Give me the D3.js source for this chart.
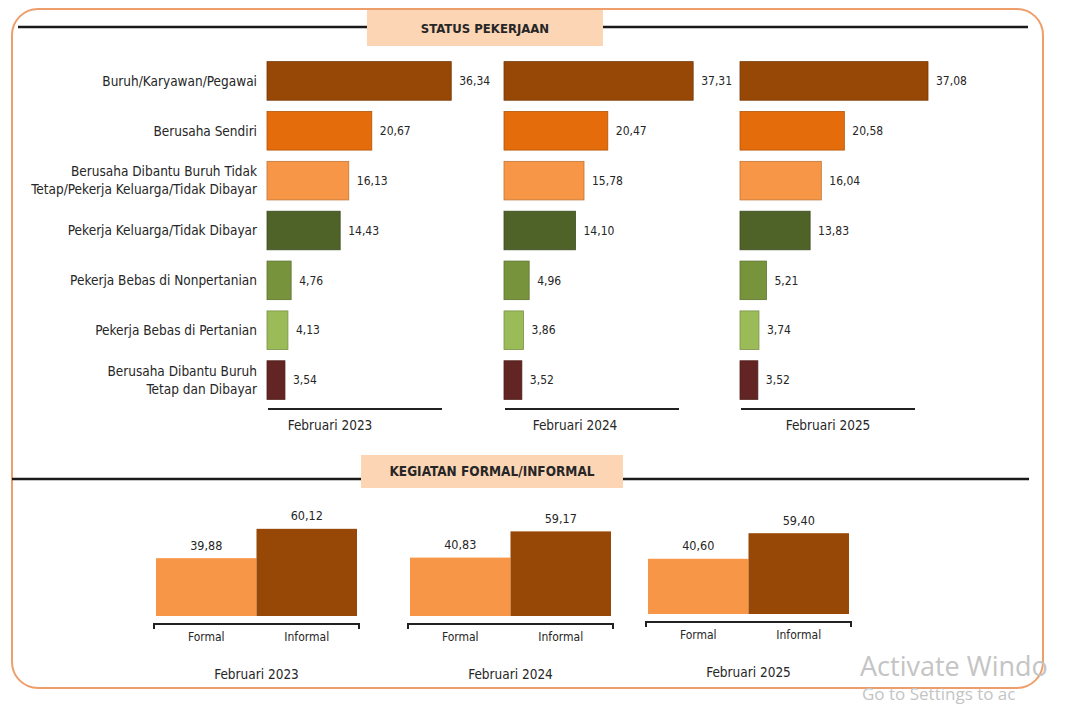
<!DOCTYPE html>
<html>
<head>
<meta charset="utf-8">
<script src="https://cdn.jsdelivr.net/npm/d3@7"></script>
<style>
  body { margin: 0; background: #fff; }
  svg text { font-family: "Liberation Sans Narrow", "DejaVu Sans Condensed", "Liberation Sans", sans-serif; fill: #262626; }
</style>
</head>
<body>
<script>
// data
const categories = [
  "Buruh/Karyawan/Pegawai",
  "Berusaha Sendiri",
  "Berusaha Dibantu Buruh Tidak\nTetap/Pekerja Keluarga/Tidak Dibayar",
  "Pekerja Keluarga/Tidak Dibayar",
  "Pekerja Bebas di Nonpertanian",
  "Pekerja Bebas di Pertanian",
  "Berusaha Dibantu Buruh\nTetap dan Dibayar"
]
const periods = ["Februari 2023", "Februari 2024", "Februari 2025"]
const status2023 = [36.34, 20.67, 16.13, 14.43, 4.76, 4.13, 3.54]
const status2024 = [37.31, 20.47, 15.78, 14.10, 4.96, 3.86, 3.52]
const status2025 = [37.08, 20.58, 16.04, 13.83, 5.21, 3.74, 3.52]
const activityTypes = ["Formal", "Informal"]
const formalShare = [39.88, 40.83, 40.60]
const informalShare = [60.12, 59.17, 59.40]

const statusColors = ["#974806", "#E46C0A", "#F79646", "#4F6228", "#77933C", "#9BBB59", "#632523"]
const activityColors = ["#F79646", "#974806"]

const fmt = v => d3.format(".2f")(v).replace(".", ",")

const w = 1072, h = 708
const svg = d3.select("body").append("svg")
  .attr("width", w)
  .attr("height", h)

// frame
svg.append("rect")
  .attr("x", 12).attr("y", 9)
  .attr("width", 1031).attr("height", 679)
  .attr("rx", 26)
  .attr("fill", "none")
  .attr("stroke", "#EE9E6A")
  .attr("stroke-width", 2)

// section headers
const sectionHeader = (title, y, boxX0, boxX1, boxY0, boxY1, lineX0, lineX1, fs) => {
  svg.append("line").attr("x1", lineX0).attr("x2", boxX0).attr("y1", y).attr("y2", y)
    .attr("stroke", "#1a1a1a").attr("stroke-width", 2.5)
  svg.append("line").attr("x1", boxX1).attr("x2", lineX1).attr("y1", y).attr("y2", y)
    .attr("stroke", "#1a1a1a").attr("stroke-width", 2.5)
  svg.append("rect").attr("x", boxX0).attr("y", boxY0)
    .attr("width", boxX1 - boxX0).attr("height", boxY1 - boxY0)
    .attr("fill", "#FCD5B5")
  svg.append("text")
    .attr("x", (boxX0 + boxX1) / 2).attr("y", (boxY0 + boxY1) / 2)
    .attr("dy", "0.35em")
    .attr("text-anchor", "middle")
    .style("font-weight", "bold")
    .style("font-size", fs + "px")
    .text(title)
}
sectionHeader("STATUS PEKERJAAN", 27, 367, 603, 10, 46, 18, 1028, 13)
sectionHeader("KEGIATAN FORMAL/INFORMAL", 479, 361, 623, 455, 488, 12, 1029, 13.5)

// ---- status pekerjaan: three horizontal bar panels
const statusSeries = [status2023, status2024, status2025]
const panelX = [267, 504, 740]
const periodLabelX = [330, 575, 828]

const yScale = d3.scaleBand()
  .domain(categories)
  .range([56, 405])
  .paddingInner(0.226)
  .paddingOuter(0.113)

const xScale = d3.scaleLinear()
  .domain([0, 40])
  .range([0, 202.8])

// category labels
const catLabels = svg.append("g")
  .selectAll("text")
  .data(categories)
  .enter()
  .append("text")
  .attr("text-anchor", "end")
  .style("font-size", "13.5px")
  .attr("transform", d => `translate(257, ${yScale(d) + yScale.bandwidth() / 2})`)

catLabels.each(function (d) {
  const lines = d.split("\n")
  const t = d3.select(this)
  lines.forEach((line, i) => {
    t.append("tspan")
      .attr("x", 0)
      .attr("y", (i - (lines.length - 1) / 2) * 18)
      .attr("dy", "0.35em")
      .text(line)
  })
})

statusSeries.forEach((series, p) => {
  const g = svg.append("g").attr("transform", `translate(${panelX[p]}, 0)`)

  g.selectAll("rect")
    .data(series)
    .enter()
    .append("rect")
    .attr("x", 0)
    .attr("y", (d, i) => yScale(categories[i]))
    .attr("width", d => xScale(d))
    .attr("height", yScale.bandwidth())
    .attr("fill", (d, i) => statusColors[i])
    .attr("stroke", (d, i) => d3.color(statusColors[i]).darker(0.7))
    .attr("stroke-width", 0.8)

  g.selectAll(".val")
    .data(series)
    .enter()
    .append("text")
    .attr("class", "val")
    .attr("x", d => xScale(d) + 8)
    .attr("y", (d, i) => yScale(categories[i]) + yScale.bandwidth() / 2)
    .attr("dy", "0.35em")
    .style("font-size", "12px")
    .text(fmt)

  g.append("line")
    .attr("x1", 1).attr("x2", 175)
    .attr("y1", 409).attr("y2", 409)
    .attr("stroke", "#222").attr("stroke-width", 2)

  svg.append("text")
    .attr("x", periodLabelX[p]).attr("y", 425)
    .attr("dy", "0.35em")
    .attr("text-anchor", "middle")
    .style("font-size", "13.5px")
    .text(periods[p])
})

// ---- kegiatan formal/informal: three small column panels (each its own chart)
const colPanelX = [156, 410, 648]
const colBase = [616, 616, 614]
const colHeight = [145, 143, 136]

const bandX = d3.scaleBand()
  .domain(activityTypes)
  .range([0, 201])
  .padding(0)

periods.forEach((period, p) => {
  const vals = [formalShare[p], informalShare[p]]
  const base = colBase[p]
  const yCol = d3.scaleLinear()
    .domain([0, 100])
    .range([0, colHeight[p]])
  const g = svg.append("g").attr("transform", `translate(${colPanelX[p]}, 0)`)

  g.selectAll("rect")
    .data(vals)
    .enter()
    .append("rect")
    .attr("x", (d, i) => bandX(activityTypes[i]))
    .attr("y", d => base - yCol(d))
    .attr("width", bandX.bandwidth())
    .attr("height", d => yCol(d))
    .attr("fill", (d, i) => activityColors[i])

  g.selectAll(".val")
    .data(vals)
    .enter()
    .append("text")
    .attr("class", "val")
    .attr("x", (d, i) => bandX(activityTypes[i]) + bandX.bandwidth() / 2)
    .attr("y", d => base - yCol(d) - 13)
    .attr("dy", "0.35em")
    .attr("text-anchor", "middle")
    .style("font-size", "12.5px")
    .text(fmt)

  // bracket under columns
  const bracket = d3.path()
  bracket.moveTo(-2, base + 13)
  bracket.lineTo(-2, base + 8)
  bracket.lineTo(203, base + 8)
  bracket.lineTo(203, base + 13)
  g.append("path")
    .attr("d", bracket.toString())
    .attr("fill", "none")
    .attr("stroke", "#222")
    .attr("stroke-width", 2)

  g.selectAll(".cat")
    .data(activityTypes)
    .enter()
    .append("text")
    .attr("class", "cat")
    .attr("x", d => bandX(d) + bandX.bandwidth() / 2)
    .attr("y", base + 21)
    .attr("dy", "0.35em")
    .attr("text-anchor", "middle")
    .style("font-size", "12px")
    .text(d => d)

  g.append("text")
    .attr("x", bandX.range()[1] / 2)
    .attr("y", base + 58)
    .attr("dy", "0.35em")
    .attr("text-anchor", "middle")
    .style("font-size", "13.5px")
    .text(period)
})

// OS watermark seen on the screenshot (only the part that is visible)
svg.append("text")
  .attr("x", 860).attr("y", 676)
  .style("font-family", "'Open Sans', sans-serif")
  .style("font-size", "27px")
  .style("fill", "#c4c4c4")
  .text("Activate Windo")
svg.append("text")
  .attr("x", 862).attr("y", 700)
  .style("font-family", "'Open Sans', sans-serif")
  .style("font-size", "17px")
  .style("fill", "#c4c4c4")
  .text("Go to Settings to ac")
</script>
</body>
</html>
